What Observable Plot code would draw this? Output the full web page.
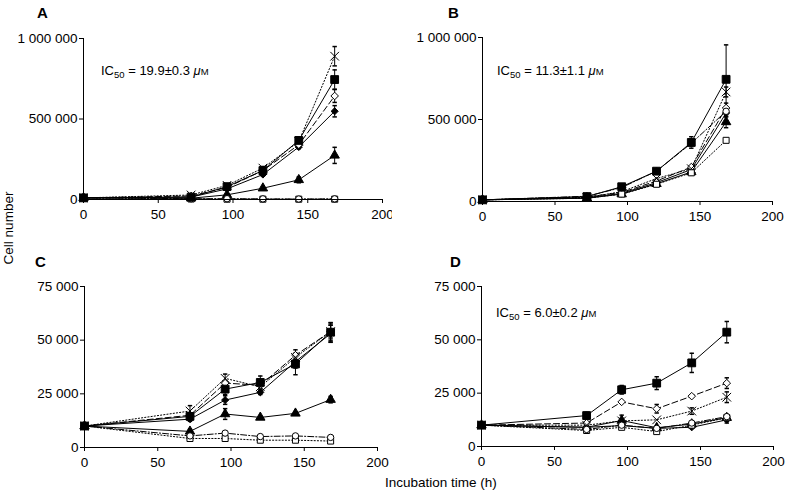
<!DOCTYPE html>
<html>
<head>
<meta charset="utf-8">
<script src="https://cdn.jsdelivr.net/npm/d3@7"></script>
<script src="https://cdn.jsdelivr.net/npm/@observablehq/plot@0.6"></script>
<style>
  body { margin: 0; background: #fff; }
  #wrap { position: relative; width: 785px; height: 494px; overflow: hidden; font-family: "Liberation Sans", Arial, sans-serif; color: #000; }
  .panel { position: absolute; }
  .lbl { position: absolute; font-weight: bold; font-size: 15px; line-height: 1; }
  .ic { position: absolute; font-size: 13px; line-height: 1; white-space: nowrap; }
  .ic sub { font-size: 9.5px; vertical-align: -3px; line-height: 0; }
  .ic i { font-style: italic; }
  .sc { font-size: 9.5px; }
  .axlab { position: absolute; font-size: 13.5px; line-height: 1; white-space: nowrap; }
</style>
</head>
<body>
<div id="wrap"></div>
<script>
// ---------- data ----------
const hours = [0, 72, 96, 120, 144, 168];
const seriesNames = ["filledSquare", "times", "openDiamond", "filledDiamond", "filledTriangle", "openCircle", "openSquare"];

// Panel A
const aFilledSquare   = [10000, 15000, 80000, 180000, 367000, 745000];
const aTimes          = [10000, 28000, 88000, 195000, 360000, 890000];
const aOpenDiamond    = [10000, 22000, 75000, 180000, 340000, 643000];
const aFilledDiamond  = [10000, 15000, 66000, 155000, 326000, 548000];
const aFilledTriangle = [10000, 8000, 29000, 70000, 122000, 274000];
const aOpenCircle     = [10000, 5000, 5000, 4000, 3000, 4000];
const aOpenSquare     = [10000, 3000, 2000, 2000, 2000, 2000];
const aErrSquare   = [0, 4000, 8000, 10000, 20000, 60000];
const aErrTimes    = [0, 6000, 8000, 10000, 15000, 60000];
const aErrDiamondO = [0, 0, 0, 0, 0, 40000];
const aErrDiamond  = [0, 0, 0, 8000, 10000, 35000];
const aErrTriangle = [0, 0, 0, 0, 18000, 50000];

// Panel B
const bFilledSquare   = [10000, 30000, 90000, 185000, 360000, 745000];
const bTimes          = [10000, 25000, 60000, 140000, 200000, 668000];
const bOpenDiamond    = [10000, 28000, 55000, 125000, 210000, 570000];
const bFilledDiamond  = [10000, 22000, 50000, 115000, 195000, 540000];
const bFilledTriangle = [10000, 20000, 45000, 108000, 180000, 485000];
const bOpenCircle     = [10000, 32000, 85000, 185000, 355000, 550000];
const bOpenSquare     = [10000, 20000, 45000, 105000, 175000, 373000];
const bErrSquare   = [0, 0, 0, 10000, 35000, 210000];
const bErrTimes    = [0, 0, 0, 0, 0, 30000];
const bErrDiamondO = [0, 0, 0, 0, 0, 30000];
const bErrDiamond  = [0, 0, 0, 0, 0, 25000];
const bErrTriangle = [0, 0, 0, 0, 0, 35000];

// Panel C
const cFilledSquare   = [10000, 14500, 27200, 30300, 38900, 53700];
const cTimes          = [10000, 17000, 32200, 28300, 42000, 54000];
const cOpenDiamond    = [10000, 15000, 30000, 29000, 43000, 54000];
const cFilledDiamond  = [10000, 13200, 22100, 25700, 40000, 53000];
const cFilledTriangle = [10000, 7500, 15600, 14000, 15900, 22300];
const cOpenCircle     = [10000, 5400, 6700, 5100, 5400, 4700];
const cOpenSquare     = [10000, 4200, 4200, 3400, 3400, 3000];
const cErrSquare   = [0, 1500, 2500, 3000, 5000, 4500];
const cErrTimes    = [0, 2500, 2000, 2000, 3500, 4000];
const cErrDiamondO = [0, 0, 0, 0, 0, 3000];
const cErrDiamond  = [0, 1000, 2000, 1000, 3000, 4000];
const cErrTriangle = [0, 1000, 2500, 500, 500, 1500];

// Panel D
const dFilledSquare   = [10000, 14500, 26600, 29700, 39200, 53600];
const dTimes          = [10000, 10000, 12000, 12500, 16600, 23100];
const dOpenDiamond    = [10000, 11000, 20900, 17700, 23600, 29700];
const dFilledDiamond  = [10000, 9000, 9800, 8500, 9000, 12500];
const dFilledTriangle = [10000, 9000, 12200, 8800, 10500, 13500];
const dOpenCircle     = [10000, 8000, 10000, 8500, 11000, 14000];
const dOpenSquare     = [10000, 7500, 9000, 7000, 10000, 13500];
const dErrSquare   = [0, 1500, 2000, 3000, 4500, 5000];
const dErrTimes    = [0, 0, 0, 0, 1500, 2500];
const dErrDiamondO = [0, 0, 0, 2000, 0, 2500];
const dErrDiamond  = [0, 0, 0, 0, 0, 1500];
const dErrTriangle = [0, 0, 2500, 0, 0, 1500];

const ticksBig   = [0, 500000, 1000000];
const ticksSmall = [0, 25000, 50000, 75000];
const xTicks = [0, 50, 100, 150, 200];

const panelLabels = ["A", "B", "C", "D"];
const icTexts = [["19.9", "0.3"], ["11.3", "1.1"], null, ["6.0", "0.2"]];
const yLabel = "Cell number";
const xLabel = "Incubation time (h)";

// ---------- styles (per series) ----------
const seriesStyle = {
  filledSquare:   {symbol: "square",   fill: "black", r: 4.4, dash: null},
  times:          {symbol: "times",    fill: "none",  r: 4.0, dash: "1.2,2"},
  openDiamond:    {symbol: "diamond2", fill: "white", r: 3.4, dash: "6,3"},
  filledDiamond:  {symbol: "diamond2", fill: "black", r: 3.2, dash: null},
  filledTriangle: {symbol: "triangle", fill: "black", r: 3.5, dash: null},
  openCircle:     {symbol: "circle",   fill: "white", r: 3.2, dash: "6,2,1.2,2"},
  openSquare:     {symbol: "square",   fill: "white", r: 3.4, dash: "1.2,2"}
};
// drawing order of markers (first = bottom)
const drawOrder = ["filledTriangle", "filledDiamond", "openDiamond", "times", "openSquare", "openCircle", "filledSquare"];

function buildRows(vals, errs) {
  const rows = [];
  seriesNames.forEach((s, i) => {
    hours.forEach((t, j) => {
      rows.push({series: s, t, v: vals[i][j], e: errs[i] ? errs[i][j] : 0});
    });
  });
  return rows;
}

const panels = [
  {rows: buildRows([aFilledSquare, aTimes, aOpenDiamond, aFilledDiamond, aFilledTriangle, aOpenCircle, aOpenSquare],
                   [aErrSquare, aErrTimes, aErrDiamondO, aErrDiamond, aErrTriangle, null, null]),
   yDomain: [0, 1000000], yTicks: ticksBig,
   left: 0, top: 0, width: 392, height: 235, mL: 83, mR: 10, mT: 38, mB: 36},
  {rows: buildRows([bFilledSquare, bTimes, bOpenDiamond, bFilledDiamond, bFilledTriangle, bOpenCircle, bOpenSquare],
                   [bErrSquare, bErrTimes, bErrDiamondO, bErrDiamond, bErrTriangle, null, null]),
   yDomain: [0, 1000000], yTicks: ticksBig,
   left: 392, top: 0, width: 393, height: 235, mL: 90, mR: 13, mT: 37, mB: 34},
  {rows: buildRows([cFilledSquare, cTimes, cOpenDiamond, cFilledDiamond, cFilledTriangle, cOpenCircle, cOpenSquare],
                   [cErrSquare, cErrTimes, cErrDiamondO, cErrDiamond, cErrTriangle, null, null]),
   yDomain: [0, 75000], yTicks: ticksSmall,
   left: 0, top: 245, width: 392, height: 240, mL: 84, mR: 15, mT: 41, mB: 38},
  {rows: buildRows([dFilledSquare, dTimes, dOpenDiamond, dFilledDiamond, dFilledTriangle, dOpenCircle, dOpenSquare],
                   [dErrSquare, dErrTimes, dErrDiamondO, dErrDiamond, dErrTriangle, null, null]),
   yDomain: [0, 75000], yTicks: ticksSmall,
   left: 392, top: 245, width: 393, height: 240, mL: 89, mR: 12, mT: 41, mB: 39}
];

const spaceFmt = d3.formatLocale({decimal: ".", thousands: "\u00a0", grouping: [3], currency: ["", ""]}).format(",");
const capSymbol = {draw(ctx) { ctx.moveTo(-2.2, 0); ctx.lineTo(2.2, 0); }};

const wrap = document.getElementById("wrap");

panels.forEach((p, k) => {
  const marks = [];
  // lines
  seriesNames.forEach(s => {
    const st = seriesStyle[s];
    marks.push(Plot.line(p.rows.filter(d => d.series === s), {
      x: "t", y: "v", stroke: "black", strokeWidth: 1,
      strokeDasharray: st.dash || undefined
    }));
  });
  // error bars
  const errRows = p.rows.filter(d => d.e > 0);
  marks.push(Plot.ruleX(errRows, {x: "t", y1: d => d.v - d.e, y2: d => d.v + d.e, stroke: "black", strokeWidth: 1}));
  marks.push(Plot.dot(errRows, {x: "t", y: d => d.v + d.e, symbol: capSymbol, stroke: "black", fill: "none", r: 2}));
  marks.push(Plot.dot(errRows, {x: "t", y: d => d.v - d.e, symbol: capSymbol, stroke: "black", fill: "none", r: 2}));
  // markers
  drawOrder.forEach(s => {
    const st = seriesStyle[s];
    marks.push(Plot.dot(p.rows.filter(d => d.series === s), {
      x: "t", y: "v", symbol: st.symbol, r: st.r,
      fill: st.fill, stroke: "black", strokeWidth: 1
    }));
  });
  // axes
  marks.push(Plot.ruleY([0], {stroke: "black", strokeWidth: 1}));
  marks.push(Plot.ruleX([0], {stroke: "black", strokeWidth: 1}));
  marks.push(Plot.axisX({ticks: xTicks, tickSize: 4, tickPadding: 6, tickFormat: d3.format("d"), label: null}));
  marks.push(Plot.axisY({ticks: p.yTicks, tickSize: 4, tickPadding: 2, tickFormat: spaceFmt, label: null}));

  const svg = Plot.plot({
    width: p.width, height: p.height,
    marginLeft: p.mL, marginRight: p.mR, marginTop: p.mT, marginBottom: p.mB,
    x: {domain: [0, 200]},
    y: {domain: p.yDomain},
    style: {fontSize: "13.5px", fontFamily: "'Liberation Sans', Arial, sans-serif", color: "black", background: "white", overflow: "visible"},
    marks
  });
  const div = document.createElement("div");
  div.className = "panel";
  div.style.left = p.left + "px";
  div.style.top = p.top + "px";
  div.appendChild(svg);
  wrap.appendChild(div);
});

// panel letters
const lblPos = [[37, 5], [448, 5], [35, 254], [450, 254]];
panelLabels.forEach((t, i) => {
  const el = document.createElement("div");
  el.className = "lbl";
  el.textContent = t;
  el.style.left = lblPos[i][0] + "px";
  el.style.top = lblPos[i][1] + "px";
  wrap.appendChild(el);
});

// IC50 annotations
const icPos = [[101, 64], [497, 64], null, [496, 306]];
icTexts.forEach((t, i) => {
  if (!t) return;
  const el = document.createElement("div");
  el.className = "ic";
  el.innerHTML = "IC<sub>50</sub> = " + t[0] + "\u00b1" + t[1] + " <i>\u03bc</i><span class='sc'>M</span>";
  el.style.left = icPos[i][0] + "px";
  el.style.top = icPos[i][1] + "px";
  wrap.appendChild(el);
});

// axis titles
const yl = document.createElement("div");
yl.className = "axlab";
yl.textContent = yLabel;
yl.style.left = "9px";
yl.style.top = "228px";
yl.style.transform = "translate(-50%, -50%) rotate(-90deg)";
wrap.appendChild(yl);

const xl = document.createElement("div");
xl.className = "axlab";
xl.textContent = xLabel;
xl.style.left = "385px";
xl.style.top = "476px";
wrap.appendChild(xl);
</script>
</body>
</html>
